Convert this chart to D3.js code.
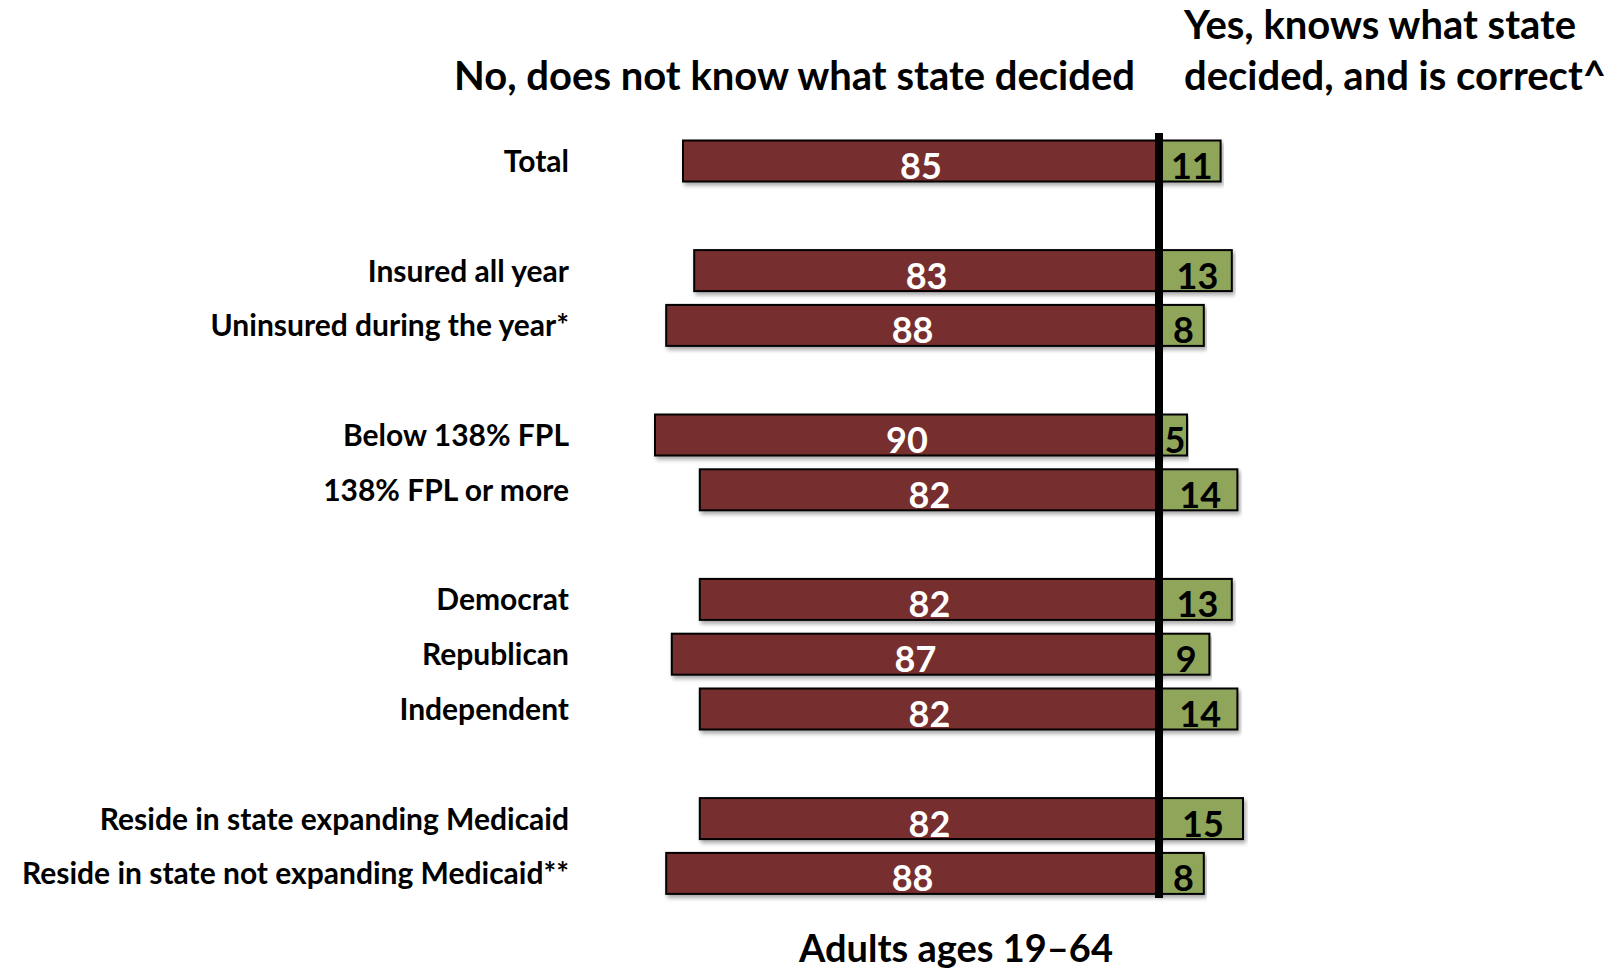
<!DOCTYPE html>
<html>
<head>
<meta charset="utf-8">
<script src="https://cdn.jsdelivr.net/npm/d3@7"></script>
<style>
  body { margin: 0; background: #fff; }
  text { font-family: Lato, "Open Sans", sans-serif; font-weight: bold; }
</style>
</head>
<body>
<svg id="chart"></svg>
<script>
// data
const categories = [
    'Total',
    'Insured all year', 'Uninsured during the year*',
    'Below 138% FPL', '138% FPL or more',
    'Democrat', 'Republican', 'Independent',
    'Reside in state expanding Medicaid', 'Reside in state not expanding Medicaid**'
]
const groupOf = [0, 1, 1, 2, 2, 3, 3, 3, 4, 4]
const noValues = [85, 83, 88, 90, 82, 82, 87, 82, 82, 88]
const yesValues = [11, 13, 8, 5, 14, 13, 9, 14, 15, 8]

const width = 1610
const height = 971

const svg = d3.select('svg#chart').attr('width', width).attr('height', height)

const defs = svg.append('defs')
defs.append('filter').attr('id', 'shadow')
    .attr('x', '-5%').attr('y', '-20%').attr('width', '110%').attr('height', '160%')
    .append('feDropShadow')
    .attr('dx', 2).attr('dy', 3).attr('stdDeviation', 2)
    .attr('flood-color', '#000').attr('flood-opacity', 0.35)

const x = d3.scaleLinear().domain([-100, 50]).range([599, 1439])
// each group gets an empty slot after it
const slots = categories.map((d, i) => i + groupOf[i])
const y = d3.scaleLinear().domain([0, 13]).range([161, 873.4])
const barH = 41

const rows = categories.map((c, i) => ({ cat: c, no: noValues[i], yes: yesValues[i], slot: slots[i] }))

const g = svg.append('g')

// red bars (no)
g.selectAll('rect.no').data(rows).join('rect')
    .attr('class', 'no')
    .attr('x', d => x(-d.no))
    .attr('y', d => y(d.slot) - barH / 2)
    .attr('width', d => x(0) - x(-d.no))
    .attr('height', barH)
    .attr('fill', '#772f2e')
    .attr('stroke', '#000')
    .attr('stroke-width', 2)
    .attr('filter', 'url(#shadow)')

// green bars (yes)
g.selectAll('rect.yes').data(rows).join('rect')
    .attr('class', 'yes')
    .attr('x', x(0))
    .attr('y', d => y(d.slot) - barH / 2)
    .attr('width', d => x(d.yes) - x(0))
    .attr('height', barH)
    .attr('fill', '#8ea55a')
    .attr('stroke', '#000')
    .attr('stroke-width', 2)
    .attr('filter', 'url(#shadow)')

// zero line
svg.append('line')
    .attr('x1', x(0)).attr('x2', x(0))
    .attr('y1', 133).attr('y2', 898)
    .attr('stroke', '#000').attr('stroke-width', 8)

// value labels
g.selectAll('text.nolab').data(rows).join('text')
    .attr('class', 'nolab')
    .attr('x', d => (x(-d.no) + x(0)) / 2)
    .attr('y', d => y(d.slot) + 18)
    .attr('text-anchor', 'middle')
    .attr('fill', '#fff')
    .attr('font-size', 36)
    .text(d => d.no)

g.selectAll('text.yeslab').data(rows).join('text')
    .attr('class', 'yeslab')
    .attr('x', d => (x(d.yes) + x(0)) / 2 + 2)
    .attr('y', d => y(d.slot) + 18)
    .attr('text-anchor', 'middle')
    .attr('fill', '#000')
    .attr('font-size', 36)
    .text(d => d.yes)

// category labels
g.selectAll('text.cat').data(rows).join('text')
    .attr('class', 'cat')
    .attr('x', 569)
    .attr('y', d => y(d.slot) + 11)
    .attr('text-anchor', 'end')
    .attr('fill', '#000')
    .attr('font-size', 30)
    .text(d => d.cat)

// headers
svg.append('text')
    .attr('x', 1135).attr('y', 90)
    .attr('text-anchor', 'end')
    .attr('font-size', 40)
    .text('No, does not know what state decided')

svg.append('text')
    .attr('x', 1184).attr('y', 39)
    .attr('font-size', 40)
    .text('Yes, knows what state')
svg.append('text')
    .attr('x', 1184).attr('y', 90)
    .attr('font-size', 40)
    .text('decided, and is correct^')

svg.append('text')
    .attr('x', 956).attr('y', 962)
    .attr('text-anchor', 'middle')
    .attr('font-size', 38)
    .text('Adults ages 19–64')
</script>
</body>
</html>
